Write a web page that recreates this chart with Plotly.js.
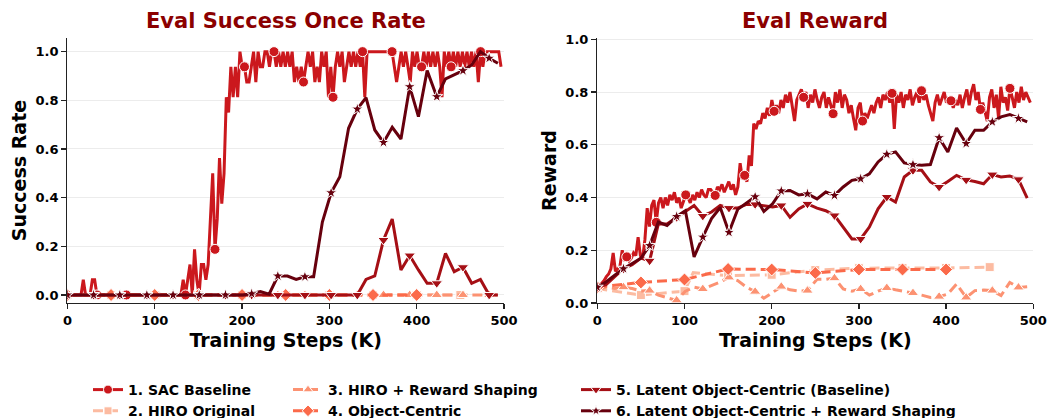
<!DOCTYPE html>
<html><head><meta charset="utf-8">
<script src="https://cdn.plot.ly/plotly-3.0.1.min.js"></script>
<style>html,body{margin:0;padding:0;background:#fff}</style>
</head><body><div id="chart" style="width:1052px;height:418px"></div>
<script>
// ---------------- DATA ----------------
const seriesNames = ['1. SAC Baseline','2. HIRO Original','3. HIRO + Reward Shaping','4. Object-Centric','5. Latent Object-Centric (Baseline)','6. Latent Object-Centric + Reward Shaping'];
const panelTitles = ['Eval Success Once Rate','Eval Reward'];
const yTitles = ['Success Rate','Reward'];
const xTitle = 'Training Steps (K)';

// SAC baseline, evaluated densely
const sacSteps = [0,2.6,5.2,7.8,10.4,13,15.6,18.2,20.8,23.4,
26,28.6,31.2,33.8,36.4,39,41.6,44.2,46.8,49.4,
52,54.6,57.2,59.8,62.4,65,67.6,70.2,72.8,75.4,
78,80.6,83.2,85.8,88.4,91,93.6,96.2,98.8,101.4,
104,106.6,109.2,111.8,114.4,117,119.6,122.2,124.8,127.4,
130,132.6,135.2,137.8,140.4,143,145.6,148.2,150.8,153.4,
156,158.6,161.2,163.8,166.4,169,171.6,174.2,176.8,179.4,
182,184.6,187.2,189.8,192.4,195,197.6,200.2,202.8,205.4,
208,210.6,213.2,215.8,218.4,221,223.6,226.2,228.8,231.4,
234,236.6,239.2,241.8,244.4,247,249.6,252.2,254.8,257.4,
260,262.6,265.2,267.8,270.4,273,275.6,278.2,280.8,283.4,
286,288.6,291.2,293.8,296.4,299,301.6,304.2,306.8,309.4,
312,314.6,317.2,319.8,322.4,325,327.6,330.2,332.8,335.4,
338,340.6,343.2,345.8,348.4,351,353.6,356.2,358.8,361.4,
364,366.6,369.2,371.8,374.4,377,379.6,382.2,384.8,387.4,
390,392.6,395.2,397.8,400.4,403,405.6,408.2,410.8,413.4,
416,418.6,421.2,423.8,426.4,429,431.6,434.2,436.8,439.4,
442,444.6,447.2,449.8,452.4,455,457.6,460.2,462.8,465.4,
468,470.6,473.2,475.8,478.4,481,483.6,486.2,488.8,491.4,
494,496.6];
const sacSuccess = [0,0,0,0,0,0,0,0.0625,0,0,
0,0.0625,0.0625,0,0,0,0,0,0,0,
0,0,0,0,0,0,0,0,0,0,
0,0,0,0,0,0,0,0,0,0,
0,0,0,0,0,0,0,0,0,0,
0,0.0625,0,0.0625,0.125,0,0.1875,0.0625,0,0.125,
0.125,0.0625,0.125,0.3125,0.5,0.1875,0.3125,0.5625,0.375,0.5,
0.8125,0.75,0.9375,0.8125,0.9375,0.8125,1,0.9375,0.9375,0.875,
0.875,0.9375,1,0.875,1,0.9375,0.9375,1,1,0.9375,
1,1,0.9375,1,0.9375,1,0.9375,1,0.9375,1,
0.875,0.9375,0.875,0.9375,0.875,0.9375,1,0.9375,1,0.875,
0.9375,0.875,1,0.9375,1,0.8125,0.9375,0.8125,0.9375,1,
0.9375,1,0.875,0.9375,1,0.9375,1,0.9375,1,0.9375,
1,0.8125,1,1,1,1,1,1,1,1,
1,1,1,1,0.9375,0.875,0.9375,1,0.9375,1,
0.9375,0.875,1,0.9375,1,0.9375,0.9375,1,0.9375,1,
0.9375,1,0.9375,1,0.9375,0.8125,1,0.9375,1,0.9375,
1,0.9375,1,0.9375,1,0.9375,1,0.9375,1,0.9375,
1,0.875,1,0.9375,1,1,1,1,1,1,
1,0.9375];
const sacReward = [0.06,0.065,0.075,0.085,0.10,0.11,0.13,0.19,0.12,0.13,
0.14,0.20,0.16,0.175,0.16,0.17,0.19,0.18,0.25,0.18,
0.17,0.24,0.36,0.29,0.37,0.39,0.306,0.38,0.40,0.36,
0.40,0.37,0.41,0.39,0.42,0.38,0.40,0.36,0.39,0.41,
0.40,0.38,0.41,0.39,0.42,0.40,0.43,0.41,0.40,0.43,
0.43,0.42,0.408,0.44,0.43,0.45,0.42,0.44,0.46,0.43,
0.45,0.41,0.44,0.53,0.47,0.484,0.46,0.56,0.52,0.68,
0.66,0.69,0.68,0.72,0.70,0.74,0.71,0.77,0.727,0.75,
0.72,0.77,0.74,0.79,0.76,0.80,0.75,0.69,0.77,0.79,
0.81,0.78,0.80,0.74,0.79,0.76,0.81,0.77,0.74,0.78,
0.80,0.74,0.78,0.75,0.718,0.80,0.76,0.81,0.74,0.79,
0.77,0.72,0.75,0.70,0.655,0.74,0.76,0.69,0.72,0.70,
0.73,0.75,0.72,0.76,0.78,0.74,0.79,0.77,0.80,0.76,
0.795,0.66,0.79,0.76,0.80,0.74,0.79,0.77,0.81,0.75,
0.78,0.80,0.76,0.805,0.77,0.79,0.75,0.72,0.69,0.76,
0.79,0.75,0.78,0.80,0.76,0.78,0.767,0.74,0.77,0.75,
0.79,0.74,0.78,0.81,0.75,0.80,0.83,0.77,0.80,0.734,
0.76,0.72,0.69,0.78,0.81,0.74,0.79,0.70,0.82,0.76,
0.78,0.73,0.814,0.78,0.74,0.80,0.76,0.82,0.77,0.80,
0.78,0.76];

// HIRO original (sparse evaluations)
const hiroSteps = [0,50,100,150,200,250,300,350,400,450];
const hiroSuccess = [0,0,0,0,0,0,0,0,0,0];
const hiroRewardSteps = [0,50,100,110,150,200,250,300,350,400,450];
const hiroReward = [0.055,0.03,0.045,0.115,0.104,0.107,0.125,0.132,0.133,0.133,0.136];

// Evaluations every ~10K steps (HIRO + RS, latent variants)
const gridSteps = [0,10,20,30,40,50,60,70,80,91,101,111,121,131,141,151,161,171,181,191,201,211,221,231,241,252,262,272,282,292,302,312,322,332,342,352,362,372,382,392,402,412,423,433,443,453,463,473,483,493];
const hiroRSSuccess = [0,0,0,0,0,0,0,0,0,0,0,0,0,0,0,0,0,0,0,0,0,0,0,0,0,0,0,0,0,0,0,0,0,0,0,0,0,0,0,0,0,0,0,0,0,0,0,0,0,0];
const hiroRSReward = [0.05,0.06,0.055,0.06,0.055,0.045,0.047,0.03,0.02,0.01,0.045,0.06,0.053,0.065,0.08,0.097,0.085,0.06,0.043,0.018,0.04,0.062,0.05,0.045,0.047,0.09,0.09,0.094,0.053,0.045,0.053,0.03,0.045,0.057,0.05,0.045,0.038,0.03,0.021,0.024,0.034,0.072,0.021,0.047,0.049,0.047,0.028,0.078,0.059,0.062];
const latentSuccess = [0,0,0,0,0,0,0,0,0,0,0,0,0,0,0,0,0,0,0,0,0,0,0,0,0,0,0,0,0,0,0,0,0,0,0.064,0.078,0.226,0.312,0.103,0.162,0.103,0.048,0.048,0.171,0.096,0.114,0.048,0.064,0,0];
const latentReward = [0.06,0.07,0.10,0.13,0.145,0.17,0.16,0.30,0.30,0.325,0.35,0.37,0.33,0.345,0.37,0.36,0.36,0.374,0.374,0.37,0.364,0.37,0.325,0.357,0.376,0.36,0.35,0.332,0.288,0.243,0.243,0.288,0.357,0.402,0.383,0.478,0.503,0.503,0.459,0.44,0.461,0.484,0.467,0.461,0.452,0.487,0.478,0.482,0.469,0.398];
const latentRSSuccess = [0,0,0,0,0,0,0,0,0,0,0,0,0,0,0,0,0,0,0,0,0,0.005,0.014,0.003,0.078,0.078,0.064,0.075,0.075,0.30,0.42,0.486,0.685,0.764,0.811,0.678,0.627,0.689,0.641,0.856,0.733,0.922,0.815,0.888,0.904,0.922,0.945,1.0,0.973,0.952];
const latentRSReward = [0.06,0.08,0.105,0.13,0.15,0.17,0.218,0.307,0.294,0.328,0.35,0.175,0.25,0.32,0.362,0.268,0.355,0.378,0.403,0.347,0.376,0.425,0.427,0.41,0.414,0.395,0.421,0.408,0.44,0.465,0.471,0.49,0.535,0.564,0.573,0.531,0.525,0.522,0.525,0.627,0.573,0.664,0.605,0.655,0.655,0.687,0.706,0.715,0.70,0.687];

// Object-centric (every 50K)
const ocSteps = [0,50,100,150,200,250,300,350,400];
const ocSuccess = [0,0,0,0,0,0,0,0,0];
const ocReward = [0.06,0.078,0.089,0.129,0.127,0.114,0.127,0.127,0.127];

const xTicks = [0,100,200,300,400,500];
const yTicks = [0,0.2,0.4,0.6,0.8,1.0];

// ---------------- STYLE ----------------
const COLORS = ['#cb181d','#fcbba1','#fc9272','#fb6a4a','#a50f15','#67000d'];
const SYMBOLS = ['circle','square','triangle-up','diamond','triangle-down','star'];
const MSIZE = [10,9,10,10,10,9];
const DASH = ['solid','10px,5px','10px,5px','10px,5px','solid','solid'];
const LW = [3,3,3,3,3,3];
const FONT = 'DejaVu Sans';

const markSel = [
  (s,i)=> i % 13 === 0,
  (s,i)=> s % 50 === 0,
  (s,i)=> i % 3 === 0,
  (s,i)=> true,
  (s,i)=> i % 3 === 0,
  (s,i)=> i % 3 === 0
];

const panels = [
  {xa:'x', ya:'y', data:[[sacSteps,sacSuccess],[hiroSteps,hiroSuccess],[gridSteps,hiroRSSuccess],[ocSteps,ocSuccess],[gridSteps,latentSuccess],[gridSteps,latentRSSuccess]]},
  {xa:'x2', ya:'y2', data:[[sacSteps,sacReward],[hiroRewardSteps,hiroReward],[gridSteps,hiroRSReward],[ocSteps,ocReward],[gridSteps,latentReward],[gridSteps,latentRSReward]]}
];

const traces = [];
panels.forEach(p=>{
  p.data.forEach((d,si)=>{
    const xs=d[0], ys=d[1];
    traces.push({type:'scatter', mode:'lines', x:xs, y:ys, xaxis:p.xa, yaxis:p.ya,
      line:{color:COLORS[si], width:LW[si], dash:DASH[si]}, showlegend:false, hoverinfo:'skip'});
    const mx=[], my=[];
    xs.forEach((s,i)=>{ if(markSel[si](s,i)){ mx.push(s); my.push(ys[i]); } });
    traces.push({type:'scatter', mode:'markers', x:mx, y:my, xaxis:p.xa, yaxis:p.ya,
      marker:{color:COLORS[si], symbol:SYMBOLS[si], size:MSIZE[si], line:{color:'white', width:1}},
      showlegend:false, hoverinfo:'skip'});
  });
});
// legend entries
const legendIds = ['legend','legend','legend2','legend2','legend3','legend3'];
seriesNames.forEach((n,si)=>{
  traces.push({type:'scatter', mode:'lines+markers', x:[null], y:[null], name:n, legend:legendIds[si],
    line:{color:COLORS[si], width:LW[si], dash:DASH[si]},
    marker:{color:COLORS[si], symbol:SYMBOLS[si], size:MSIZE[si]-1, line:{color:'white', width:1}}});
});

const W=1052, H=418, TOP=38, BOT=303, PAPER_H=H-TOP;
const py = px => (H-px)/PAPER_H;
const tickFont = {family:FONT, size:13, color:'#000', weight:'bold'};
const axTitleFont = {family:FONT, size:19, color:'#000', weight:'bold'};
const yDom = [(H-BOT)/PAPER_H, 1];
function xAxis(dom, anchor){
  return {domain:dom, anchor:anchor, range:[0,500], tickvals:xTicks, showgrid:false, zeroline:false,
    showline:true, linecolor:'#222', linewidth:1.3, ticks:'outside', ticklen:5, tickwidth:1.3, tickcolor:'#222',
    tickfont:tickFont, title:{text:xTitle, font:axTitleFont, standoff:6}, automargin:false};
}
function yAxis(range, anchor, title){
  return {domain:yDom, range:range, anchor:anchor, tickvals:yTicks, tickformat:'.1f', showgrid:true, gridcolor:'#ececec', gridwidth:1,
    zeroline:false, showline:true, linecolor:'#222', linewidth:1.3, ticks:'outside', ticklen:5, tickwidth:1.3, tickcolor:'#222',
    tickfont:tickFont, title:{text:title, font:axTitleFont, standoff:3}, automargin:false};
}
const xd1=[67.4/W, 504/W], xd2=[597.3/W, 1033.3/W];
const legendBase = {orientation:'v', xanchor:'left', yanchor:'top', bgcolor:'rgba(0,0,0,0)',
  font:{family:FONT, size:14, color:'#000', weight:'bold'}, tracegroupgap:0};
const LEG_TOP = 374;
const layout = {
  width:W, height:H, margin:{l:0,r:0,t:TOP,b:0,autoexpand:false}, paper_bgcolor:'#fff', plot_bgcolor:'#fff',
  font:{family:FONT}, showlegend:true,
  xaxis:xAxis(xd1,'y'), yaxis:yAxis([-0.033,1.056],'x',yTitles[0]),
  xaxis2:xAxis(xd2,'y2'), yaxis2:yAxis([0,1.005],'x2',yTitles[1]),
  legend:Object.assign({}, legendBase, {x:88/W, y:py(LEG_TOP)}),
  legend2:Object.assign({}, legendBase, {x:288/W, y:py(LEG_TOP)}),
  legend3:Object.assign({}, legendBase, {x:576/W, y:py(LEG_TOP)}),
  annotations:[
    {text:panelTitles[0], xref:'paper', yref:'paper', x:(xd1[0]+xd1[1])/2, y:py(21), xanchor:'center', yanchor:'middle', showarrow:false,
     font:{family:FONT, size:21, color:'#8b0000', weight:'bold'}},
    {text:panelTitles[1], xref:'paper', yref:'paper', x:(xd2[0]+xd2[1])/2, y:py(21), xanchor:'center', yanchor:'middle', showarrow:false,
     font:{family:FONT, size:21, color:'#8b0000', weight:'bold'}}
  ]
};
Plotly.newPlot('chart', traces, layout, {displayModeBar:false, staticPlot:true});
</script></body></html>
